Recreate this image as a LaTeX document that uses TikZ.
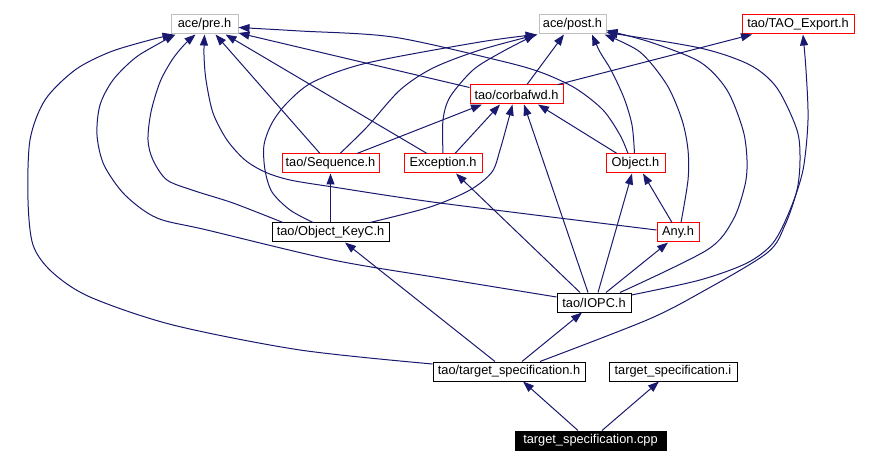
\documentclass[tikz,border=0pt]{standalone}
\usepackage{fontspec}
\setmainfont{Liberation Sans}
\usetikzlibrary{arrows.meta}
\definecolor{edgec}{HTML}{191970}
\definecolor{greyc}{HTML}{BFBFBF}
\begin{document}
\begin{tikzpicture}[x=1pt,y=-1pt,
  box/.style={draw, fill=white, line width=1pt, inner sep=0pt, minimum height=19pt,
    font=\fontsize{12.8}{14}\selectfont},
  greybox/.style={box, draw=greyc},
  redbox/.style={box, draw=red},
  blackbox/.style={box, draw=black},
  edge/.style={draw=edgec, line width=1pt, -{Triangle[length=11pt,width=8pt]}},
  curve/.style={edge, smooth, tension=0.5}]
\fill[white] (0,0) rectangle (881,465);
\useasboundingbox (0,0) rectangle (881,465);
% nodes
\node[greybox, minimum width=67pt] (pre) at (204.5,24.5) {ace/pre.h};
\node[greybox, minimum width=67pt] (post) at (572.5,24.5) {ace/post.h};
\node[redbox, minimum width=112pt] (exp) at (798,24.5) {tao/TAO\_Export.h};
\node[redbox, minimum width=93pt] (corbafwd) at (516.5,94.5) {tao/corbafwd.h};
\node[redbox, minimum width=97pt] (seq) at (330.5,163.5) {tao/Sequence.h};
\node[redbox, minimum width=78pt] (exc) at (443,163.5) {Exception.h};
\node[redbox, minimum width=59pt] (obj) at (635.5,163.5) {Object.h};
\node[blackbox, minimum width=117pt] (keyc) at (330.5,232.5) {tao/Object\_KeyC.h};
\node[redbox, minimum width=42pt] (any) at (678,232.5) {Any.h};
\node[blackbox, minimum width=74pt] (iopc) at (594,302.5) {tao/IOPC.h};
\node[blackbox, minimum width=152pt] (tsh) at (509,371.5) {tao/target\_specification.h};
\node[blackbox, minimum width=128pt] (tsi) at (673,371.5) {target\_specification.i};
\node[blackbox, fill=black, text=white, minimum width=151pt] (cpp) at (590.5,440.5) {target\_specification.cpp};
% edges
\draw[edge] ([xshift=-12.5pt]cpp.north) -- ([xshift=14pt]tsh.south);
\draw[edge] ([xshift=11.5pt]cpp.north) -- ([xshift=-14pt]tsi.south);
\draw[curve] plot coordinates {([yshift=7.5pt]tsh.west) (300,350) (173,325) (90,297) (52,272) (33,245) (28,200) (30,140) (45,100) (75,70) (110,52) (150,40) ([xshift=3pt]pre.south west)};
\draw[curve] plot coordinates {([yshift=5.5pt]iopc.west) (440,278) (333,260) (207,230) (157,218) (125,195) (104,165) (97,135) (100,105) (113,80) (135,58) (158,44) ([xshift=5pt]pre.south west)};
\draw[curve] plot coordinates {([xshift=-47.5pt]keyc.north) (233,203) (195,191) (167,180) (153,160) (148,140) (151,112) (160,82) (172,60) (184,45) ([xshift=-9pt]pre.south)};
\draw[curve] plot coordinates {([yshift=2.5pt]any.west) (440,203) (333,187) (290,180) (265,172) (245,160) (227,140) (213,113) (206,80) (204,55) (pre.south)};
\draw[edge] ([xshift=-10.5pt]seq.north) -- ([xshift=11pt]pre.south);
\draw[edge] ([xshift=-16pt]exc.north) -- ([xshift=21pt]pre.south);
\draw[edge] ([yshift=7pt]corbafwd.west) -- ([yshift=-8.5pt]pre.east);
\draw[curve] plot coordinates {([xshift=-7.5pt]obj.north) (620,135) (603,110) (575,88) (540,72) (497,60) (393,37) (300,31) ([yshift=-3pt]pre.east)};
\draw[curve] plot coordinates {([xshift=-1pt]obj.north) (632,125) (624,98) (611,70) (600,52) ([xshift=19.5pt]post.south)};
\draw[edge] ([xshift=-18.5pt]obj.north) -- ([xshift=21.5pt]corbafwd.south);
\draw[edge] ([xshift=10.5pt]corbafwd.north) -- ([xshift=-8.5pt]post.south);
\draw[edge] ([xshift=41.5pt]corbafwd.north) -- ([xshift=-46pt]exp.south);
\draw[edge] ([xshift=26.5pt]seq.north) -- ([xshift=-34.5pt]corbafwd.south);
\draw[curve] plot coordinates {([xshift=9.5pt]seq.north) (367,127) (400,90) (433,68) (480,50) ([xshift=-35pt]post.south)};
\draw[curve] plot coordinates {([xshift=-17.5pt]keyc.north) (290,210) (272,192) (265,170) (264,145) (272,123) (287,103) (313,82) (367,63) (480,42) ([xshift=-36pt]post.south)};
\draw[edge] (keyc.north) -- (seq.south);
\draw[curve] plot coordinates {([xshift=39.5pt]keyc.north) (430,207) (470,190) (492,172) (500,150) (507,125) ([xshift=-4pt]corbafwd.south)};
\draw[edge] ([xshift=12pt]exc.north) -- ([xshift=-16.5pt]corbafwd.south);
\draw[curve] plot coordinates {(exc.north) (443,120) (450,97) (473,70) (500,53) ([xshift=-37pt]post.south)};
\draw[edge] ([xshift=-6pt]any.north) -- ([xshift=7.5pt]obj.south);
\draw[curve] plot coordinates {([xshift=3pt]any.north) (688,180) (688,150) (682,120) (667,85) (640,52) ([xshift=32pt]post.south)};
\draw[curve] plot coordinates {([xshift=26pt]iopc.north) (707,250) (733,220) (745,185) (747,160) (743,130) (727,90) (700,62) (650,42) ([yshift=-6pt]post.east)};
\draw[curve] plot coordinates {([yshift=7.5pt]iopc.east) (700,280) (747,263) (773,243) (790,210) (803,170) (808,120) (806,70) ([xshift=5pt]exp.south)};
\draw[curve] plot coordinates {([xshift=31pt]tsh.north) (647,320) (700,293) (767,253) (785,225) (797,190) (800,160) (797,130) (777,88) (750,65) (700,48) ([yshift=-8pt]post.east)};
\draw[edge] ([xshift=-14pt]iopc.north) -- ([xshift=13pt]exc.south);
\draw[edge] ([xshift=-6pt]iopc.north) -- ([xshift=7.5pt]corbafwd.south);
\draw[edge] ([xshift=4pt]iopc.north) -- ([xshift=-3.5pt]obj.south);
\draw[edge] ([xshift=12pt]iopc.north) -- ([xshift=-10pt]any.south);
\draw[edge] ([xshift=-14pt]tsh.north) -- ([xshift=14.5pt]keyc.south);
\draw[edge] ([xshift=13pt]tsh.north) -- ([xshift=-12pt]iopc.south);
\end{tikzpicture}
\end{document}
